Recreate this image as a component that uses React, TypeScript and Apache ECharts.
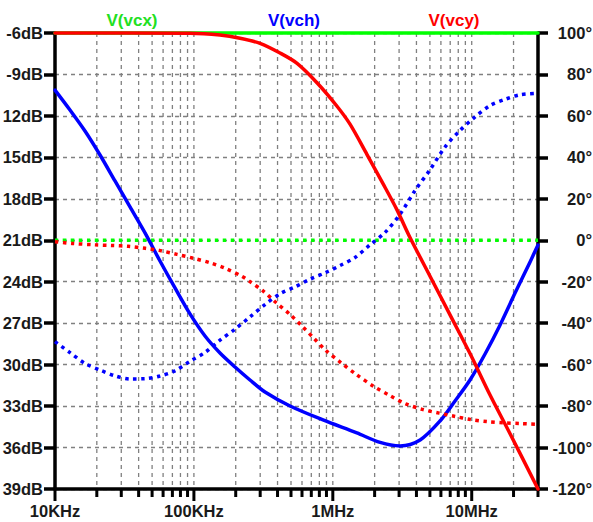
import React, { useEffect, useRef } from "react";
import * as echarts from "echarts";

// ---- axis definitions ----
const freqMin = 1e4;
const freqMax = 3e7;
const decadeLabels: Record<number, string> = { 4: "10KHz", 5: "100KHz", 6: "1MHz", 7: "10MHz" };
const dbMin = -39;
const dbMax = -6;
const dbStep = 3;
const degMin = -120;
const degMax = 100;
const degStep = 20;
const gridDecades = [1e4, 1e5, 1e6, 1e7];
const gridMultipliers = [1, 2, 3, 4, 5, 6, 7, 8, 9];

// ---- trace names ----
const traceNames = ["V(vcx)", "V(vch)", "V(vcy)"];

// ---- V(vcx): magnitude (dB) and phase (deg) ----
const vcxMag: [number, number][] = [[1e4, -6], [3e7, -6]];
const vcxPhase: [number, number][] = [[1e4, 0], [3e7, 0]];

// ---- V(vch) ----
const vchMag: [number, number][] = [
  [1e4, -10.13], [1.282e4, -11.57], [1.644e4, -13.09], [2.109e4, -14.83], [2.704e4, -16.71],
  [3.467e4, -18.59], [4.446e4, -20.47], [5.7e4, -22.5], [7.31e4, -24.45], [9.37e4, -26.33],
  [1.202e5, -27.93], [1.541e5, -29.16], [1.976e5, -30.17], [2.533e5, -31.11], [3.25e5, -31.98],
  [4.92e5, -32.99], [8.5e5, -34.0], [1.49e6, -34.94], [2.19e6, -35.63], [3.05e6, -35.88],
  [4.25e6, -35.45], [5.91e6, -34.08], [7.58e6, -32.63], [9.72e6, -31.11], [1.247e7, -29.23],
  [1.6e7, -27.13], [2.05e7, -24.82], [2.63e7, -22.57], [3e7, -21.34],
];
const vchPhase: [number, number][] = [
  [1e4, -48.9], [1.282e4, -54.2], [1.644e4, -59.4], [2.109e4, -62.6], [2.704e4, -65.4],
  [3.467e4, -66.9], [4.446e4, -66.8], [5.7e4, -65.5], [7.31e4, -63.0], [9.37e4, -58.4],
  [1.202e5, -54.1], [1.541e5, -48.2], [1.976e5, -42.9], [2.533e5, -37.0], [3.25e5, -31.0],
  [4.17e5, -25.8], [5.35e5, -22.5], [6.85e5, -18.8], [8.79e5, -15.7], [1.127e6, -12.2],
  [1.445e6, -8.3], [1.853e6, -2.2], [2.377e6, 3.8], [3.05e6, 12.6], [3.908e6, 24.0],
  [5.01e6, 34.0], [6.427e6, 45.0], [8.24e6, 53.0], [1.057e7, 59.5], [1.355e7, 65.0],
  [1.738e7, 68.0], [2.228e7, 70.2], [3e7, 70.9],
];

// ---- V(vcy) ----
const vcyMag: [number, number][] = [
  [1e4, -6.0], [9.37e4, -6.02], [1.541e5, -6.15], [2.148e5, -6.38], [2.99e5, -6.75],
  [4.17e5, -7.45], [5.53e5, -8.2], [7.69e5, -9.6], [1.072e6, -11.3], [1.33e6, -12.6],
  [1.763e6, -14.8], [2.297e6, -16.9], [2.897e6, -18.8], [3.594e6, -20.8], [5.01e6, -23.6],
  [6.98e6, -26.4], [9.72e6, -29.2], [1.355e7, -32.2], [1.888e7, -35.0], [3e7, -39.0],
];
const vcyPhase: [number, number][] = [
  [1e4, -0.7], [1.32e4, -1.5], [1.94e4, -2.2], [2.57e4, -2.5], [3.37e4, -2.9],
  [4.47e4, -3.9], [5.73e4, -5.0], [7.56e4, -6.8], [9.96e4, -8.7], [1.31e5, -10.9],
  [1.69e5, -13.6], [2.22e5, -17.4], [2.49e5, -19.6], [3.17e5, -24.6], [3.86e5, -29.8],
  [4.98e5, -36.1], [6.06e5, -41.7], [7.31e5, -47.3], [8.86e5, -53.0], [1.14e6, -59.0],
  [1.46e6, -64.5], [1.98e6, -70.6], [2.54e6, -74.7], [3.35e6, -78.9], [4.41e6, -81.6],
  [5.83e6, -83.4], [7.48e6, -84.9], [9.82e6, -86.5], [1.29e7, -87.5], [1.70e7, -88.1],
  [2.23e7, -88.4], [3e7, -88.8],
];

const GREEN = "#00ff00";
const BLUE = "#0000ff";
const RED = "#ff0000";
const FONT = "'Liberation Sans', Arial, sans-serif";
const TEXT = "#1a1a1a";

const isDecade = (f: number) => Math.abs(Math.log10(f) - Math.round(Math.log10(f))) < 1e-6;

export default function App() {
  const ref = useRef<HTMLDivElement>(null);

  useEffect(() => {
    if (!ref.current) return;
    const chart = echarts.init(ref.current, null, { renderer: "svg" });

    const gridFreqs: number[][] = [];
    gridDecades.forEach((d) =>
      gridMultipliers.forEach((m) => {
        const f = d * m;
        if (f <= freqMax * 1.0001) gridFreqs.push([f, dbMin]);
      })
    );

    const solid = (color: string) => ({
      color,
      width: 3.5,
      type: "solid" as const,
      cap: "round" as const,
      join: "round" as const,
    });
    const dotted = (color: string) => ({
      color,
      width: 3.5,
      type: [3.5, 4.5],
      cap: "butt" as const,
    });

    const lineSeries = (name: string, data: [number, number][], yAxisIndex: number, style: any) => ({
      name,
      type: "line",
      data,
      yAxisIndex,
      showSymbol: false,
      symbol: "none",
      smooth: 0.3,
      clip: false,
      silent: true,
      z: 3,
      lineStyle: style,
    });

    const option: any = {
      animation: false,
      backgroundColor: "#ffffff",
      grid: { left: 55, right: 55, top: 33, bottom: 33, containLabel: false, outerBoundsMode: "none" },
      graphic: [
        { type: "text", x: 132, y: 20, style: { text: traceNames[0], fill: "#22e022", font: `bold 17px ${FONT}`, align: "center", verticalAlign: "middle" } },
        { type: "text", x: 294, y: 20, style: { text: traceNames[1], fill: BLUE, font: `bold 17px ${FONT}`, align: "center", verticalAlign: "middle" } },
        { type: "text", x: 454, y: 20, style: { text: traceNames[2], fill: RED, font: `bold 17px ${FONT}`, align: "center", verticalAlign: "middle" } },
      ],
      xAxis: {
        type: "log",
        logBase: 10,
        min: freqMin,
        max: freqMax,
        axisLine: { show: true, onZero: false, lineStyle: { color: "#000", width: 3.5 } },
        axisTick: { show: false },
        splitLine: { show: false },
        axisLabel: {
          margin: 13,
          color: TEXT,
          fontFamily: FONT,
          fontWeight: "bold",
          fontSize: 16.5,
          showMaxLabel: false,
          formatter: (v: number) => (isDecade(v) ? decadeLabels[Math.round(Math.log10(v))] || "" : ""),
        },
      },
      yAxis: [
        {
          type: "value",
          position: "left",
          min: dbMin,
          max: dbMax,
          interval: dbStep,
          axisLine: { show: true, onZero: false, lineStyle: { color: "#000", width: 3.5 } },
          axisTick: { show: true, length: 11, lineStyle: { color: "#000", width: 3.5 } },
          splitLine: { show: true, lineStyle: { color: "#808080", width: 1.3, type: [4, 4] } },
          axisLabel: {
            margin: 12,
            color: TEXT,
            fontFamily: FONT,
            fontWeight: "bold",
            fontSize: 16.5,
            formatter: (v: number) => (v >= -9 ? `${v}dB` : `${-v}dB`),
          },
        },
        {
          type: "value",
          position: "right",
          min: degMin,
          max: degMax,
          interval: degStep,
          axisLine: { show: true, onZero: false, lineStyle: { color: "#000", width: 3.5 } },
          axisTick: { show: true, length: 10, lineStyle: { color: "#000", width: 3.5 } },
          splitLine: { show: false },
          axisLabel: {
            margin: 54,
            align: "right",
            color: TEXT,
            fontFamily: FONT,
            fontWeight: "bold",
            fontSize: 16.5,
            formatter: (v: number) => `${v}°`,
          },
        },
      ],
      series: [
        {
          type: "custom",
          silent: true,
          clip: false,
          z: 1,
          data: gridFreqs,
          renderItem: (_params: any, api: any) => {
            const f = api.value(0);
            const bottom = api.coord([f, dbMin]);
            const top = api.coord([f, dbMax]);
            const x = bottom[0];
            const children: any[] = [];
            if (f > freqMin * 1.0001 && f < freqMax * 0.9999) {
              children.push({
                type: "line",
                shape: { x1: x, y1: top[1], x2: x, y2: bottom[1] },
                style: { stroke: "#808080", lineWidth: 1.3, lineDash: [4, 4] },
              });
            }
            children.push({
              type: "line",
              shape: { x1: x, y1: bottom[1], x2: x, y2: bottom[1] + (isDecade(f) ? 12 : 8) },
              style: { stroke: "#000", lineWidth: 3 },
            });
            return { type: "group", children };
          },
        },
        lineSeries(traceNames[0], vcxMag, 0, solid(GREEN)),
        lineSeries(traceNames[0] + " phase", vcxPhase, 1, dotted(GREEN)),
        lineSeries(traceNames[1], vchMag, 0, solid(BLUE)),
        lineSeries(traceNames[1] + " phase", vchPhase, 1, dotted(BLUE)),
        lineSeries(traceNames[2], vcyMag, 0, solid(RED)),
        lineSeries(traceNames[2] + " phase", vcyPhase, 1, dotted(RED)),
      ],
    };

    chart.setOption(option);
    return () => chart.dispose();
  }, []);

  return (
    <div
      ref={ref}
      style={{ position: "absolute", left: 0, top: 0, width: 593, height: 522, background: "#fff" }}
    />
  );
}
